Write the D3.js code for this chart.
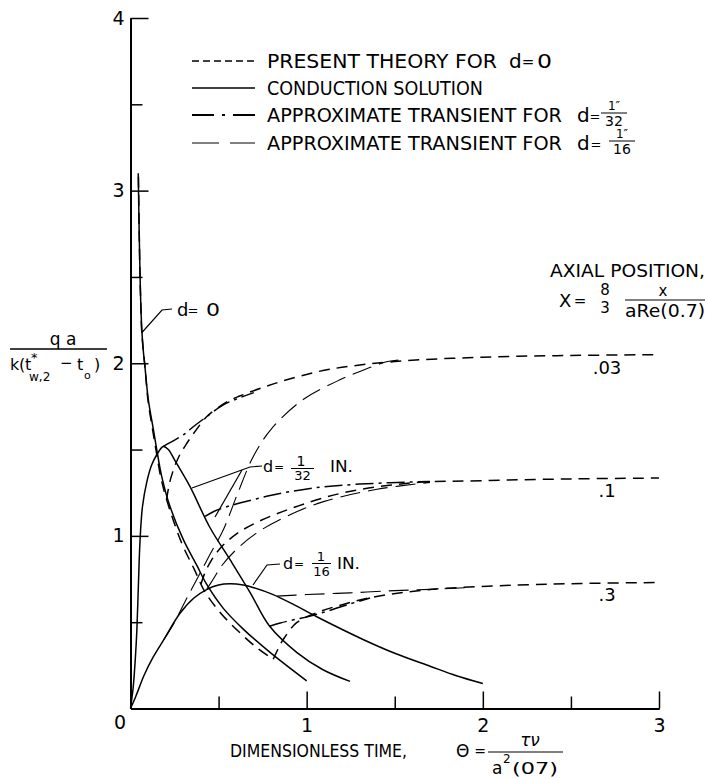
<!DOCTYPE html>
<html><head><meta charset="utf-8">
<script src="https://cdn.jsdelivr.net/npm/d3@7"></script>
<style>
body{margin:0;background:#fff;}
svg text{font-family:"DejaVu Sans",Arial,sans-serif;fill:#000;}
</style></head><body>
<svg id="chart" width="707" height="779"></svg>
<script>
// Axis ticks
const xMajor = [1, 2, 3];
const xMinor = [0.5, 1.5, 2.5];
const yMajor = [1, 2, 3, 4];
const yMinor = [0.5, 1.5, 2.5, 3.5];

// Conduction solutions (solid), [theta, qa/k(t*-t0)]
const condD0 = [[0.044,3.10],[0.047,2.9],[0.050,2.72],[0.054,2.52],[0.058,2.36],[0.064,2.20],[0.072,2.08],[0.082,1.98],[0.101,1.79],[0.13,1.615],[0.149,1.50],[0.177,1.345],[0.224,1.171],[0.30,0.978],[0.376,0.83],[0.432,0.72],[0.527,0.58],[0.64,0.46],[0.792,0.325],[1.0,0.16]];
const condD32 = [[0,0],[0.015,0.12],[0.028,0.3],[0.036,0.45],[0.045,0.72],[0.054,0.97],[0.068,1.17],[0.092,1.31],[0.12,1.41],[0.149,1.47],[0.186,1.518],[0.215,1.50],[0.25,1.44],[0.338,1.285],[0.45,1.05],[0.565,0.862],[0.68,0.67],[0.79,0.476],[0.945,0.324],[1.09,0.226],[1.246,0.157]];
const condD16 = [[0,0],[0.03,0.07],[0.076,0.19],[0.13,0.30],[0.19,0.40],[0.28,0.55],[0.36,0.64],[0.432,0.689],[0.5,0.715],[0.565,0.722],[0.64,0.715],[0.7,0.70],[0.81,0.66],[0.93,0.60],[1.06,0.53],[1.32,0.40],[1.5,0.32],[1.70,0.245],[1.85,0.19],[2.0,0.145]];

// Present theory for d = 0 (dashed): common descent, then one branch per axial position
const theoryDescent = [[0.045,3.08],[0.049,2.8],[0.053,2.55],[0.058,2.36],[0.064,2.18],[0.082,1.98],[0.10,1.78],[0.128,1.60],[0.146,1.49],[0.172,1.34],[0.205,1.21],[0.29,0.96],[0.365,0.80],[0.42,0.68],[0.51,0.555],[0.62,0.44],[0.72,0.35],[0.81,0.285]];
const theoryX03 = [[0.205,1.21],[0.22,1.30],[0.243,1.38],[0.275,1.46],[0.319,1.535],[0.37,1.61],[0.432,1.69],[0.5,1.745],[0.565,1.786],[0.62,1.81],[0.78,1.87],[0.943,1.92],[1.13,1.965],[1.5,2.01],[2.0,2.035],[2.5,2.045],[3.0,2.05]];
const theoryX1 = [[0.40,0.72],[0.42,0.78],[0.46,0.86],[0.52,0.94],[0.6,1.01],[0.72,1.08],[0.943,1.17],[1.21,1.25],[1.6,1.307],[2.0,1.32],[2.5,1.33],[3.0,1.335]];
const theoryX3 = [[0.81,0.285],[0.84,0.35],[0.867,0.40],[0.943,0.497],[1.057,0.555],[1.207,0.603],[1.36,0.642],[1.70,0.689],[2.2,0.715],[2.6,0.725],[3.0,0.73]];

// Approximate transient for d = 1/32" (dash-dot)
const trans32X03 = [[0.186,1.518],[0.205,1.53],[0.25,1.555],[0.30,1.585],[0.36,1.635],[0.432,1.69],[0.52,1.755],[0.62,1.80],[0.7,1.83]];
const trans32X1 = [[0.423,1.113],[0.47,1.14],[0.55,1.17],[0.62,1.19],[0.8,1.235],[1.02,1.275],[1.3,1.30],[1.7,1.315]];
const trans32X3 = [[0.79,0.476],[0.85,0.495],[0.93,0.515],[1.02,0.535],[1.12,0.565],[1.227,0.60],[1.36,0.64]];

// Approximate transient for d = 1/16" (long dash)
const trans16X03 = [[0.19,0.40],[0.25,0.50],[0.31,0.62],[0.376,0.747],[0.45,0.89],[0.527,1.036],[0.61,1.25],[0.697,1.46],[0.8,1.62],[0.98,1.79],[1.17,1.895],[1.32,1.96],[1.46,2.01],[1.55,2.02]];
const trans16X1 = [[0.432,0.689],[0.47,0.75],[0.52,0.83],[0.6,0.92],[0.72,1.02],[0.9,1.12],[1.1,1.2],[1.4,1.27],[1.7,1.31]];
const trans16X3 = [[0.83,0.651],[1.0,0.66],[1.246,0.67],[1.5,0.683],[1.70,0.69],[1.9,0.70]];

// Axial position labels at the right end of each family
const axialLabels = [{text: ".03", v: 2.05}, {text: ".1", v: 1.335}, {text: ".3", v: 0.73}];

const svg = d3.select("#chart");
const x = d3.scaleLinear().domain([0, 3]).range([130.5, 659]);
const y = d3.scaleLinear().domain([0, 4]).range([708.5, 18]);

const line = d3.line().x(d => x(d[0])).y(d => y(d[1])).curve(d3.curveCatmullRom.alpha(0.5));

const styles = {
  solid:   {dash: null,          w: 1.5},
  dashed:  {dash: "11,7",        w: 1.5},
  dashdot: {dash: "18,5,3,5",    w: 1.5},
  longdash:{dash: "20,8",        w: 1.1}
};

function drawCurve(data, style) {
  const s = styles[style];
  svg.append("path").attr("d", line(data)).attr("fill", "none")
    .attr("stroke", "#000").attr("stroke-width", s.w)
    .attr("stroke-dasharray", s.dash).attr("stroke-linecap", "butt");
}

[condD0, condD32, condD16].forEach(d => drawCurve(d, "solid"));
[theoryDescent, theoryX03, theoryX1, theoryX3].forEach(d => drawCurve(d, "dashed"));
[trans32X03, trans32X1, trans32X3].forEach(d => drawCurve(d, "dashdot"));
[trans16X03, trans16X1, trans16X3].forEach(d => drawCurve(d, "longdash"));

// Axes with inward ticks
const gx = svg.append("g").attr("transform", `translate(0,${y(0)})`)
  .call(d3.axisBottom(x).tickValues(xMajor).tickSizeInner(-17).tickSizeOuter(0).tickPadding(6).tickFormat(d3.format("d")));
const gxm = svg.append("g").attr("transform", `translate(0,${y(0)})`)
  .call(d3.axisBottom(x).tickValues(xMinor).tickSizeInner(-12).tickSizeOuter(0).tickFormat(""));
const gy = svg.append("g").attr("transform", `translate(${x(0)},0)`)
  .call(d3.axisLeft(y).tickValues(yMajor).tickSizeInner(-18).tickSizeOuter(0).tickPadding(6).tickFormat(d3.format("d")));
const gym = svg.append("g").attr("transform", `translate(${x(0)},0)`)
  .call(d3.axisLeft(y).tickValues(yMinor).tickSizeInner(-12).tickSizeOuter(0).tickFormat(""));
[gx, gxm, gy, gym].forEach(g => {
  g.selectAll(".domain").attr("stroke", "#000").attr("stroke-width", 2);
  g.selectAll(".tick line").attr("stroke", "#000").attr("stroke-width", 1.5);
  g.selectAll(".tick text").attr("font-size", 19).attr("fill", "#000")
    .style("font-family", '"DejaVu Sans",sans-serif');
});
gx.selectAll(".tick text").attr("dy", "0.9em");
svg.append("text").attr("x", 120).attr("y", 729).attr("text-anchor", "middle").attr("font-size", 19).text("0");

function txt(xp, yp, s, size, opts = {}) {
  const t = svg.append("text").attr("x", xp).attr("y", yp).attr("font-size", size).text(s);
  if (opts.anchor) t.attr("text-anchor", opts.anchor);
  if (opts.len) t.attr("textLength", opts.len).attr("lengthAdjust", "spacingAndGlyphs");
  if (opts.style) t.attr("font-style", opts.style);
  return t;
}
function seg(x1, y1, x2, y2, w = 1.2) {
  svg.append("line").attr("x1", x1).attr("y1", y1).attr("x2", x2).attr("y2", y2)
    .attr("stroke", "#000").attr("stroke-width", w);
}
function poly(pts, w = 1.2) {
  svg.append("path").attr("d", d3.line()(pts)).attr("fill", "none").attr("stroke", "#000").attr("stroke-width", w);
}

// Legend
const legendRows = [
  {y: 61, dash: "7,4", w: 1.5, label: "PRESENT THEORY FOR", len: 230},
  {y: 88, dash: null, w: 1.5, label: "CONDUCTION SOLUTION", len: 216},
  {y: 115, dash: "22,8,3,8", w: 2, label: "APPROXIMATE TRANSIENT FOR", len: 295, frac: "32", fx: 614, eq: 595},
  {y: 143, dash: "27,11", w: 1, label: "APPROXIMATE TRANSIENT FOR", len: 295, frac: "16", fx: 622, eq: 596}
];
legendRows.forEach(r => {
  svg.append("line").attr("x1", 192).attr("x2", 255).attr("y1", r.y).attr("y2", r.y)
    .attr("stroke", "#000").attr("stroke-width", r.w).attr("stroke-dasharray", r.dash);
  txt(267, r.y + 7, r.label, 20, {len: r.len});
  if (r.frac) {
    txt(577, r.y + 7, "d", 20);
    txt(r.eq, r.y + 6, "=", 13, {anchor: "middle"});
    txt(r.fx, r.y - 5, "1\u2033", 12, {anchor: "middle"});
    seg(r.fx - 13, r.y - 2, r.fx + 13, r.y - 2, 1);
    txt(r.fx, r.y + 11, r.frac, 14, {anchor: "middle"});
  }
});
txt(509, 68, "d", 20);
txt(528, 67, "=", 15, {anchor: "middle"});
txt(537, 68, "0", 20, {len: 15});

// Axial position note
txt(550, 277, "AXIAL POSITION,", 18, {len: 155});
txt(559, 307, "X", 18);
txt(580, 306, "=", 15, {anchor: "middle"});
txt(605, 295, "8", 15, {anchor: "middle"});
txt(605, 313, "3", 15, {anchor: "middle"});
txt(663, 296, "x", 15, {anchor: "middle"});
seg(625, 300, 705, 300, 1);
txt(625, 317, "aRe(0.7)", 17, {len: 80});

// Axial position labels
axialLabels.forEach(l => {
  txt(607, y(l.v) + 19, l.text, 18, {anchor: "middle"});
});

// Curve annotations
poly([[141.5, 333], [162, 310], [172, 309]]);
txt(177, 316, "d", 18);
txt(193, 315, "=", 13, {anchor: "middle"});
txt(206, 316, "0", 18, {len: 14});

poly([[262, 466], [250, 467], [192, 488]]);
poly([[242, 470], [215, 517]]);
txt(263, 472, "d", 16);
txt(279, 471, "=", 12, {anchor: "middle"});
txt(301, 466, "1", 14, {anchor: "middle"});
seg(291, 468.5, 314, 468.5, 1);
txt(302.5, 480, "32", 13, {anchor: "middle"});
txt(330, 472, "IN.", 16, {len: 23});

poly([[253, 585], [267, 565], [280, 564]]);
txt(283, 569, "d", 16);
txt(299, 568, "=", 12, {anchor: "middle"});
txt(321, 561, "1", 13, {anchor: "middle"});
seg(312, 563.5, 331, 563.5, 1);
txt(321.5, 576, "16", 13, {anchor: "middle"});
txt(337, 569, "IN.", 16, {len: 23});

// Y axis title
txt(63, 345, "q a", 17, {anchor: "middle"});
seg(10, 349, 107, 349, 1.3);
txt(10, 370, "k", 16);
txt(19, 370, "(", 16);
txt(25, 370, "t", 16);
txt(31, 362, "*", 13);
txt(29, 381, "w,2", 12);
txt(60, 368, "\u2212", 15);
txt(77, 370, "t", 16);
txt(84, 379, "o", 11);
txt(94, 370, ")", 16);

// X axis title
txt(230, 757, "DIMENSIONLESS TIME,", 18, {len: 177});
txt(456, 757, "\u0398", 17);
txt(480, 756, "=", 14, {anchor: "middle"});
seg(488, 752, 563, 752, 1.2);
txt(530, 746, "\u03C4\u03BD", 17, {anchor: "middle", style: "italic"});
txt(492, 774, "a", 17);
txt(503, 763, "2", 12);
txt(512, 774, "(07)", 16, {len: 46});
</script>
</body></html>
